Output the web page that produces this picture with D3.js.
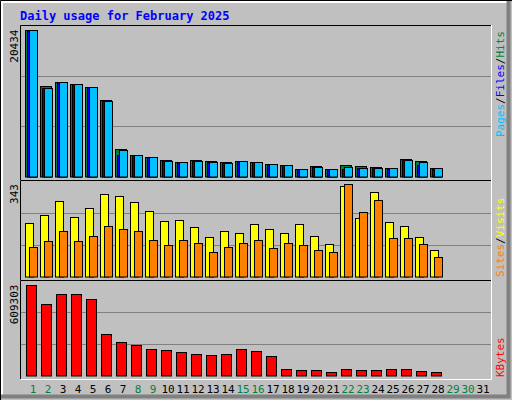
<!DOCTYPE html>
<html><head><meta charset="utf-8">
<script src="https://cdn.jsdelivr.net/npm/d3@7"></script>
<style>body{margin:0;background:#fff}</style>
</head><body><div id="chart"></div>
<script>
var days = d3.range(1, 32);
var weekend = [1,2,8,9,15,16,22,23,29,30];
// day 1..28
var hits  = [20434,12530,13090,12810,12390,10630,3800,2970,2690,2270,2000,2270,2140,2000,2140,2000,1760,1620,1070,1480,1070,1620,1480,1340,1210,2450,2180,1210];
var files = [20434,12340,13090,12810,12390,10450,3000,2970,2690,2140,2000,2140,2000,1860,2140,2000,1760,1580,1000,1340,1000,1100,1210,1210,1100,2270,1600,1100];
var pages = [20434,12340,13090,12810,12390,10450,3660,2970,2690,2140,2000,2140,2000,1860,2140,2000,1760,1580,1070,1340,1070,1340,1210,1210,1210,2270,2040,1210];
var visits = [197,227,279,219,253,306,298,275,242,204,208,182,145,167,163,193,175,160,193,149,119,334,216,313,201,186,145,100];
var sites  = [108,130,167,130,152,186,175,167,134,115,134,123,89,108,123,134,104,123,115,100,89,343,238,282,141,141,119,71];
var kbytes = [609303,482000,549000,549000,515500,281200,227600,200900,174100,167400,154000,147300,140600,147300,174100,160700,133900,40200,33500,33500,20100,40200,33500,33500,40200,40200,26800,20100];

var W = 512, H = 400;
var svg = d3.select("#chart").append("svg").attr("width", W).attr("height", H)
  .style("font-family", "'DejaVu Sans Mono', monospace");

svg.append("rect").attr("width", W).attr("height", H).attr("fill", "#c0c0c0");
// 3D frame
svg.append("path").attr("d", "M0.5,400V0.5H512").attr("stroke", "#000").attr("fill", "none");
svg.append("path").attr("d", "M2,398V2H510").attr("stroke", "#fff").attr("stroke-width", 2).attr("fill", "none");
svg.append("path").attr("d", "M1,396.5H508.5V1").attr("stroke", "#808080").attr("stroke-width", 4).attr("fill", "none");

svg.append("text").attr("x", 20).attr("y", 20).text("Daily usage for February 2025")
  .attr("fill", "#0000ff").attr("font-size", 12).attr("font-weight", "bold");

var x = d3.scaleBand().domain(days).range([21, 486]).paddingInner(0);

function panel(top, bottom, maxVal, maxLabel, marginTop) {
  svg.append("path").attr("d", "M20.5," + bottom + "V" + (top + 0.5) + "H491.5")
    .attr("stroke", "#000").attr("fill", "none");
  svg.append("path").attr("d", "M20.5," + (bottom + 0.5) + "H491.5V" + top)
    .attr("stroke", "#fff").attr("fill", "none");
  var base = bottom - 3.5;
  var h = base - (top + 0.5);
  [1, 2].forEach(function(k){
    svg.append("line").attr("x1", 21).attr("x2", 491)
      .attr("y1", Math.round(base - h * k / 3) + 0.5).attr("y2", Math.round(base - h * k / 3) + 0.5)
      .attr("stroke", "#808080");
  });
  svg.append("text").attr("transform", "translate(18," + (top + marginTop) + ") rotate(-90)")
    .attr("text-anchor", "end").attr("font-size", 11).text(maxLabel);
  return d3.scaleLinear().domain([0, maxVal]).range([base, top + marginTop]);
}

function bars(data, y, off, w, color) {
  svg.append("g").selectAll("rect").data(data).join("rect")
    .attr("x", function(d, i){ return x(i + 1) + off + 0.5; })
    .attr("y", function(d){ return Math.round(y(d)) + 0.5; })
    .attr("width", w)
    .attr("height", function(d){ return Math.max(0, y(0) - Math.round(y(d))); })
    .attr("fill", color).attr("stroke", "#000");
}

var y1 = panel(25, 180, 20434, "20434", 4.5);
bars(hits, y1, 4, 11, "#008040");
bars(files, y1, 6, 9, "#0000ff");
bars(pages, y1, 8, 8, "#00c0ff");

var y2 = panel(180, 280, 343, "343", 4);
bars(visits, y2, 4, 8, "#ffff00");
bars(sites, y2, 8, 8, "#ff8000");

var y3 = panel(280, 379, 609303, "609303", 4.5);
bars(kbytes, y3, 5, 10, "#ff0000");

svg.append("g").selectAll("text").data(days).join("text")
  .attr("x", function(d){ return x(d) + 12; }).attr("y", 393)
  .attr("text-anchor", "middle").attr("font-size", 11)
  .attr("fill", function(d){ return weekend.indexOf(d) >= 0 ? "#008040" : "#000"; })
  .text(function(d){ return d; });

function sideLabel(yEnd, parts) {
  var t = svg.append("text").attr("transform", "translate(504," + yEnd + ") rotate(-90)")
    .attr("font-size", 11);
  parts.forEach(function(p){ t.append("tspan").attr("fill", p[1]).text(p[0]); });
}
sideLabel(137, [["Pages", "#00c0ff"], ["/", "#000"], ["Files", "#0000ff"], ["/", "#000"], ["Hits", "#008040"]]);
sideLabel(277, [["Sites", "#ff8000"], ["/", "#000"], ["Visits", "#ffff00"]]);
sideLabel(377, [["KBytes", "#ff0000"]]);
</script>
</body></html>
